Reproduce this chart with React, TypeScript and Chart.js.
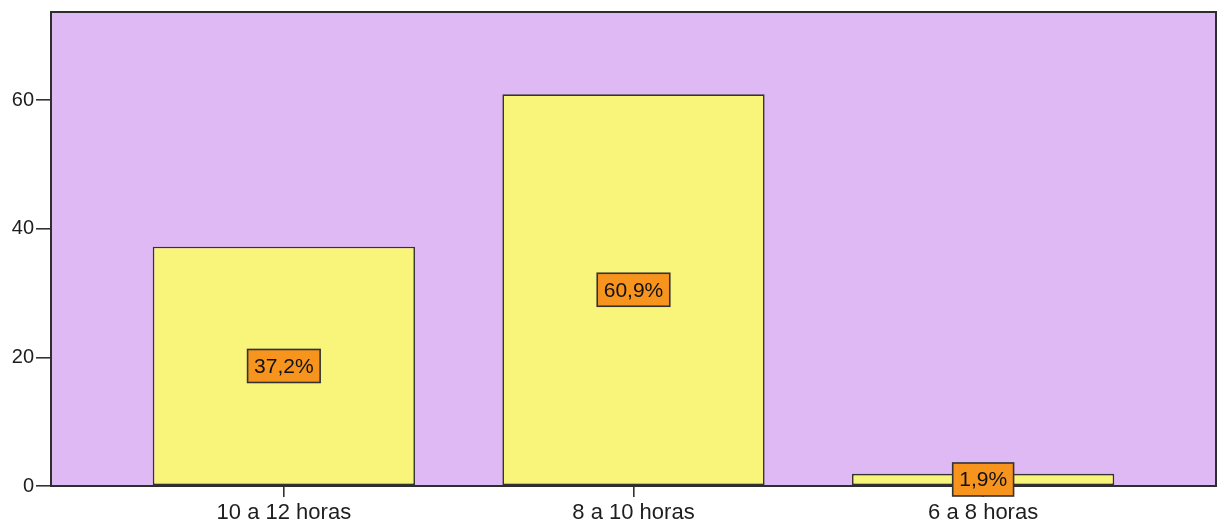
import { useEffect, useRef } from 'react';
import { Chart, registerables } from 'chart.js';

Chart.register(...registerables);

const categories = ['10 a 12 horas', '8 a 10 horas', '6 a 8 horas'];
const percentages = [37.2, 60.9, 1.9];
const yTicks = [0, 20, 40, 60];
const yMax = 73.7;

const FONT = "'Liberation Sans', Arial, sans-serif";
const PLOT_BG = '#DFB9F3';
const BAR_FILL = '#F9F57A';
const BOX_FILL = '#F7941E';
const INK = '#1e1e1e';

const plotPlugin = {
  id: 'plotDecor',
  beforeDatasetsDraw(chart: any) {
    const { ctx, chartArea: a } = chart;
    ctx.save();
    ctx.fillStyle = PLOT_BG;
    ctx.fillRect(a.left, a.top, a.right - a.left, a.bottom - a.top);
    ctx.restore();
  },
  afterDatasetsDraw(chart: any) {
    const { ctx, chartArea: a } = chart;
    ctx.save();
    ctx.strokeStyle = '#2e2e2e';
    ctx.lineWidth = 2;
    ctx.strokeRect(a.left, a.top, a.right - a.left, a.bottom - a.top);

    const meta = chart.getDatasetMeta(0);
    ctx.font = `21px ${FONT}`;
    ctx.textAlign = 'center';
    ctx.textBaseline = 'middle';
    meta.data.forEach((bar: any, i: number) => {
      const text = percentages[i].toFixed(1).replace('.', ',') + '%';
      const cx = bar.x;
      const cy = (bar.y + bar.base) / 2;
      const w = ctx.measureText(text).width + 13;
      const h = 33;
      ctx.fillStyle = BOX_FILL;
      ctx.fillRect(cx - w / 2, cy - h / 2, w, h);
      ctx.strokeStyle = '#333333';
      ctx.lineWidth = 1.6;
      ctx.strokeRect(cx - w / 2, cy - h / 2, w, h);
      ctx.fillStyle = '#111';
      ctx.fillText(text, cx, cy + 1);
    });
    ctx.restore();
  },
};

export default function App() {
  const ref = useRef<HTMLCanvasElement>(null);

  useEffect(() => {
    if (!ref.current) return;
    const chart = new Chart(ref.current, {
      type: 'bar',
      data: {
        datasets: [
          {
            data: percentages.map((v, i) => ({ x: i, y: v })),
            backgroundColor: BAR_FILL,
            borderColor: '#333333',
            borderWidth: 1.6,
            borderSkipped: false,
            barPercentage: 0.75,
            categoryPercentage: 1,
          },
        ],
      },
      options: {
        animation: false,
        responsive: false,
        layout: { padding: { top: 12, right: 8, left: 0, bottom: 0 } },
        plugins: {
          legend: { display: false },
          tooltip: { enabled: false },
          title: { display: false },
        },
        scales: {
          x: {
            type: 'linear',
            offset: false,
            min: -0.666,
            max: 2.666,
            afterBuildTicks: (scale: any) => {
              scale.ticks = categories.map((_, i) => ({ value: i }));
            },
            afterFit: (scale: any) => {
              scale.height = 36;
              scale.paddingLeft = 0;
              scale.paddingRight = 0;
            },
            ticks: {
              autoSkip: false,
              maxRotation: 0,
              padding: 3,
              color: INK,
              font: { family: FONT, size: 22 },
              callback: (v: any) => categories[Math.round(Number(v))] ?? '',
            },
            grid: {
              display: true,
              offset: false,
              drawOnChartArea: false,
              drawTicks: true,
              tickLength: 11,
              color: '#333333',
              lineWidth: 1.6,
            },
            border: { display: false },
          },
          y: {
            min: 0,
            max: yMax,
            afterBuildTicks: (scale: any) => {
              scale.ticks = yTicks.map((v) => ({ value: v }));
            },
            afterFit: (scale: any) => {
              scale.width = 51;
              scale.paddingTop = 0;
              scale.paddingBottom = 0;
            },
            ticks: {
              padding: 2,
              color: INK,
              font: { family: FONT, size: 20 },
            },
            grid: {
              display: true,
              drawOnChartArea: false,
              drawTicks: true,
              tickLength: 15,
              color: '#333333',
              lineWidth: 1.6,
            },
            border: { display: false },
          },
        },
      },
      plugins: [plotPlugin],
    } as any);
    return () => chart.destroy();
  }, []);

  return (
    <div style={{ position: 'absolute', left: 0, top: 0, width: 1224, height: 522, background: '#fff' }}>
      <canvas ref={ref} width={1224} height={522} style={{ display: 'block' }} />
    </div>
  );
}
